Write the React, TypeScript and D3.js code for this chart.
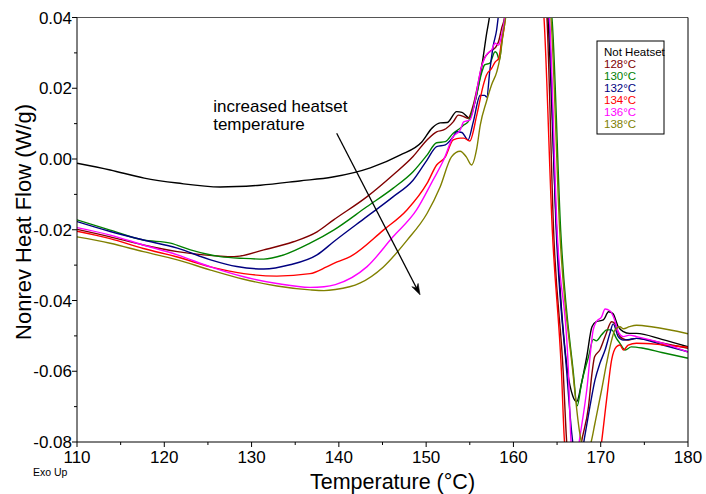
import React from "react";
import * as d3 from "d3";

type Pt = [number, number];

const seriesNames = ["Not Heatset", "128°C", "130°C", "132°C", "134°C", "136°C", "138°C"];
const seriesColors = ["#000000", "#800000", "#008000", "#000080", "#ff0000", "#ff00ff", "#808000"];

const notHeatset: Pt[] = [
  [110, -0.0012], [113.8, -0.0031], [117.7, -0.0054], [121.5, -0.0068], [126.4, -0.0079], [131, -0.0074],
  [135.5, -0.0062], [139.3, -0.0051], [143.6, -0.0025], [147, 0.0011], [149.5, 0.0048], [150.7, 0.0088],
  [151.6, 0.0102], [152.4, 0.0103], [153.5, 0.0134], [154.1, 0.0132], [155.0, 0.0115], [155.6, 0.0162],
  [156.4, 0.0266], [156.9, 0.035], [157.3, 0.041], [158, 0.06], [163, 0.06], [163.95, 0.04], [164.95, -0.02],
  [166.2, -0.06], [166.8, -0.067], [167.24, -0.0686], [167.8, -0.0634], [168.4, -0.0559], [169.0, -0.0474],
  [169.5, -0.046], [170.3, -0.0455], [170.9, -0.0432], [171.4, -0.0437], [172.0, -0.0474], [172.6, -0.0488],
  [173.3, -0.0493], [174.1, -0.0493], [177, -0.051], [180, -0.0531],
];

const hs128: Pt[] = [
  [110, -0.0199], [113.8, -0.022], [117.6, -0.0243], [121.5, -0.0262], [124.5, -0.0271], [128, -0.0276],
  [131.4, -0.0257], [134.8, -0.0234], [137.5, -0.0206], [139.4, -0.0172], [143.2, -0.0107], [146.2, -0.0045],
  [148.5, 0.0007], [150.1, 0.0054], [151.2, 0.0077], [152, 0.0082], [153.1, 0.0105], [153.7, 0.0124],
  [154.3, 0.012], [154.8, 0.0115], [155.4, 0.0153], [156, 0.0219], [156.5, 0.0276], [157.3, 0.0304],
  [157.9, 0.0314], [158.3, 0.0332], [158.65, 0.037], [159.03, 0.0407], [159.5, 0.06], [163, 0.06],
  [163.84, 0.04], [164.6, -0.02], [165.7, -0.06], [166.1, -0.08], [166.9, -0.095], [167.8, -0.08],
  [168.6, -0.07], [169, -0.0606], [169.3, -0.0559], [169.9, -0.054], [170.5, -0.0502], [171.25, -0.046],
  [171.6, -0.0464], [172.2, -0.0502], [173, -0.0512], [174.1, -0.0507], [177, -0.052], [180, -0.0535],
];

const hs130: Pt[] = [
  [110, -0.0172], [113.8, -0.0201], [117.6, -0.0229], [120.7, -0.0238], [123, -0.0257], [126.4, -0.0276],
  [129.1, -0.0281], [131.4, -0.0283], [133.7, -0.0271], [136.7, -0.0238], [139.4, -0.0201], [143.2, -0.0135],
  [146.2, -0.0083], [148.5, -0.0036], [150.1, 0.0011], [151.2, 0.0046], [152.2, 0.0049], [153.1, 0.0073],
  [153.9, 0.0087], [154.3, 0.0096], [154.8, 0.0105], [155.6, 0.0162], [156.4, 0.0247], [156.7, 0.0266],
  [157.3, 0.0271], [157.9, 0.0303], [158.1, 0.0299], [158.4, 0.028], [158.7, 0.034], [159.03, 0.0407],
  [159.5, 0.06], [163, 0.06], [164.41, 0.04], [165.41, -0.02], [166.85, -0.06], [167.3, -0.0698],
  [167.8, -0.0634], [168.6, -0.0559], [169.15, -0.051], [169.5, -0.0514], [170.1, -0.0497], [170.7, -0.0483],
  [171.25, -0.0483], [171.8, -0.0507], [172.2, -0.0521], [172.8, -0.054], [173.5, -0.0531], [174.9, -0.0535],
  [177, -0.0547], [180, -0.0563],
];

const hs132: Pt[] = [
  [110, -0.0177], [113.8, -0.0205], [117.6, -0.0229], [121.5, -0.0252], [125.3, -0.0285], [128.3, -0.0304],
  [131.4, -0.0311], [134.4, -0.0299], [137.5, -0.0271], [139.4, -0.0234], [143.2, -0.0163], [146.2, -0.0107],
  [148.5, -0.006], [150.1, -0.0003], [151.2, 0.0035], [152.2, 0.004], [153.1, 0.0063], [153.5, 0.0077],
  [154.1, 0.0075], [154.8, 0.0054], [155.4, 0.0105], [156.2, 0.018], [156.7, 0.018], [156.95, 0.0175],
  [157.3, 0.0251], [157.7, 0.0322], [158.07, 0.0364], [158.3, 0.041], [159, 0.06], [163, 0.06],
  [164.07, 0.04], [164.9, -0.02], [166.1, -0.06], [166.7, -0.078], [167.4, -0.088], [168.2, -0.078],
  [168.76, -0.07], [169.34, -0.0625], [169.9, -0.0578], [170.5, -0.054], [171.05, -0.0493], [171.43, -0.0466],
  [172, -0.0502], [172.6, -0.0512], [173.3, -0.051], [174.1, -0.0507], [177, -0.0525], [180, -0.0545],
];

const hs134: Pt[] = [
  [110, -0.0204], [113.8, -0.0225], [117.6, -0.0253], [121.5, -0.0277], [125.3, -0.0305], [129.1, -0.0324],
  [132.9, -0.0331], [136.7, -0.0324], [138.6, -0.0305], [139.8, -0.0291], [141.3, -0.0276], [145.1, -0.0201],
  [147.8, -0.0144], [150.1, -0.0069], [151.2, -0.0017], [152.2, 0.0006], [153.1, 0.0054], [153.9, 0.0059],
  [154.3, 0.0059], [155, 0.0051], [155.8, 0.0124], [156.55, 0.0209], [156.9, 0.0237], [157.5, 0.0256],
  [157.9, 0.0274], [158.3, 0.0284], [158.65, 0.0332], [159.03, 0.039], [159.5, 0.06], [162.5, 0.06],
  [163.5, 0.04], [164.45, -0.02], [165.5, -0.06], [165.85, -0.08], [167.5, -0.11], [170.1, -0.08],
  [170.67, -0.0681], [171.25, -0.0568], [171.8, -0.0531], [172.2, -0.0526], [172.6, -0.054], [173.15, -0.0526],
  [174.1, -0.0521], [177, -0.0525], [180, -0.0532],
];

const hs136: Pt[] = [
  [110, -0.0194], [113.8, -0.0215], [117.6, -0.0243], [121.5, -0.0271], [125.3, -0.0305], [129.1, -0.0333],
  [132.9, -0.0352], [136.7, -0.0363], [138.3, -0.0361], [139.6, -0.0355], [143.2, -0.0305], [146.2, -0.022],
  [148.9, -0.0144], [150.8, -0.0059], [152, -0.0003], [153.1, 0.0063], [153.9, 0.0082], [154.3, 0.0105],
  [155, 0.011], [156.4, 0.0266], [156.9, 0.0294], [157.5, 0.0308], [157.9, 0.0327], [158.3, 0.0322],
  [158.65, 0.035], [159.03, 0.0407], [159.5, 0.06], [163, 0.06], [164.12, 0.04], [165, -0.02],
  [166.3, -0.06], [166.6, -0.08], [167, -0.088], [167.62, -0.0785], [168.4, -0.0653], [169.14, -0.0483],
  [169.5, -0.046], [170.1, -0.0446], [170.5, -0.0424], [171.05, -0.0429], [171.6, -0.0455], [172, -0.0488],
  [172.6, -0.0502], [173.3, -0.0498], [174.1, -0.0502], [177, -0.052], [180, -0.0546],
];

const hs138: Pt[] = [
  [110, -0.022], [113.8, -0.0238], [117.6, -0.0262], [121.5, -0.0285], [125.3, -0.0314], [129.1, -0.034],
  [132.9, -0.0359], [136.7, -0.037], [138.3, -0.0372], [139.6, -0.0369], [142.4, -0.0351], [145.1, -0.0305],
  [147.8, -0.023], [150.1, -0.0154], [151.6, -0.0079], [152.9, 0.0006], [153.9, 0.0022], [154.6, 0.0006],
  [155.2, -0.0017], [155.8, 0.003], [156.2, 0.0096], [156.9, 0.0162], [157.5, 0.021], [158.1, 0.0247],
  [158.45, 0.0285], [158.85, 0.036], [159.14, 0.0407], [159.6, 0.06], [163, 0.06], [164.3, 0.04],
  [165.3, -0.02], [166.8, -0.06], [167.6, -0.0775], [168.2, -0.083], [168.9, -0.08], [169.34, -0.0747],
  [170.1, -0.0653], [170.67, -0.0578], [171.25, -0.0512], [171.63, -0.0483], [172.2, -0.0474], [172.6, -0.048],
  [173.3, -0.0474], [174.1, -0.047], [176, -0.0475], [180, -0.0494],
];

const seriesData: Pt[][] = [notHeatset, hs128, hs130, hs132, hs134, hs136, hs138];

const xTicks = [110, 120, 130, 140, 150, 160, 170, 180];
const xMinorTicks = [115, 125, 135, 145, 155, 165, 175];
const yTicks = [0.04, 0.02, 0, -0.02, -0.04, -0.06, -0.08];
const yTickLabels = ["0.04", "0.02", "0.00", "-0.02", "-0.04", "-0.06", "-0.08"];
const yMinorTicks = [0.03, 0.01, -0.01, -0.03, -0.05, -0.07];

const annotationLines = ["increased heatset", "temperature"];
const annotationAnchor: Pt = [125.6, 0.0132];
const arrowFrom: Pt = [139.75, 0.0073];
const arrowTo: Pt = [149.3, -0.0384];

const FONT = "'Liberation Sans', Arial, Helvetica, sans-serif";

export default function App() {
  const W = 706;
  const H = 494;
  const left = 77;
  const right = 688;
  const top = 17.5;
  const bottom = 442;

  const x = d3.scaleLinear().domain([110, 180]).range([left, right]);
  const y = d3.scaleLinear().domain([-0.08, 0.04]).range([bottom, top]);

  const line = d3
    .line<Pt>()
    .x((d) => x(d[0]))
    .y((d) => y(d[1]))
    .curve(d3.curveMonotoneX);

  const ax0 = x(arrowFrom[0]);
  const ay0 = y(arrowFrom[1]);
  const ax1 = x(arrowTo[0]);
  const ay1 = y(arrowTo[1]);
  const ang = Math.atan2(ay1 - ay0, ax1 - ax0);
  const hl = 11;
  const hw = 3.5;
  const bx = ax1 - hl * Math.cos(ang);
  const by = ay1 - hl * Math.sin(ang);
  const nx = ax1 - hl * 0.7 * Math.cos(ang);
  const ny = ay1 - hl * 0.7 * Math.sin(ang);
  const px = -Math.sin(ang) * hw;
  const py = Math.cos(ang) * hw;
  const head = `M${ax1},${ay1} L${bx + px},${by + py} L${nx},${ny} L${bx - px},${by - py} Z`;

  const legX = 597;
  const legY = 41;

  return (
    <svg
      width={W}
      height={H}
      style={{ position: "absolute", left: 0, top: 0, background: "#fff" }}
      fontFamily={FONT}
    >
      <rect x={0} y={0} width={W} height={H} fill="#fff" />
      <defs>
        <clipPath id="plotClip">
          <rect x={left} y={top} width={right - left} height={bottom - top} />
        </clipPath>
      </defs>

      <g clipPath="url(#plotClip)">
        {seriesData.map((s, i) => (
          <path
            key={seriesNames[i]}
            d={line(s) || ""}
            fill="none"
            stroke={seriesColors[i]}
            strokeWidth={1.4}
            strokeLinejoin="round"
          />
        ))}
      </g>

      {/* frame */}
      <line x1={left} x2={right} y1={top} y2={top} stroke="#555" strokeWidth={1} />
      <line x1={right} x2={right} y1={top} y2={bottom} stroke="#000" strokeWidth={1} />
      <line x1={left} x2={left} y1={top} y2={bottom} stroke="#000" strokeWidth={1} />
      <line x1={left} x2={right} y1={bottom} y2={bottom} stroke="#000" strokeWidth={1} />

      {/* y ticks */}
      {yTicks.map((t, i) => (
        <g key={"yt" + t}>
          <line x1={left - 5} x2={left} y1={y(t)} y2={y(t)} stroke="#000" />
          <text x={left - 5} y={y(t) + 6} fontSize={17} textAnchor="end" fill="#000">
            {yTickLabels[i]}
          </text>
        </g>
      ))}
      {yMinorTicks.map((t) => (
        <line key={"ym" + t} x1={left - 3} x2={left} y1={y(t)} y2={y(t)} stroke="#000" />
      ))}

      {/* x ticks */}
      {xTicks.map((t) => (
        <g key={"xt" + t}>
          <line x1={x(t)} x2={x(t)} y1={bottom} y2={bottom + 5} stroke="#000" />
          <text x={x(t)} y={bottom + 21} fontSize={17} textAnchor="middle" fill="#000">
            {t}
          </text>
        </g>
      ))}
      {xMinorTicks.map((t) => (
        <line key={"xm" + t} x1={x(t)} x2={x(t)} y1={bottom} y2={bottom + 3} stroke="#000" />
      ))}

      {/* axis titles */}
      <text x={(left + right) / 2 + 10} y={489} fontSize={21.5} textAnchor="middle" fill="#000">
        Temperature (°C)
      </text>
      <text
        transform={`translate(31,${222}) rotate(-90)`}
        fontSize={22}
        textAnchor="middle"
        fill="#000"
      >
        Nonrev Heat Flow (W/g)
      </text>
      <text x={33} y={476} fontSize={10.5} fill="#000">
        Exo Up
      </text>

      {/* legend */}
      <rect x={legX} y={legY} width={67} height={93} fill="none" stroke="#000" strokeWidth={1} />
      {seriesNames.map((n, i) => (
        <text key={"lg" + n} x={legX + 7} y={legY + 15 + i * 12} fontSize={11.5} fill={seriesColors[i]}>
          {n}
        </text>
      ))}

      {/* annotation */}
      {annotationLines.map((l, i) => (
        <text
          key={"an" + i}
          x={x(annotationAnchor[0])}
          y={y(annotationAnchor[1]) + i * 17.5}
          fontSize={17}
          fill="#000"
        >
          {l}
        </text>
      ))}
      <line x1={ax0} y1={ay0} x2={nx} y2={ny} stroke="#000" strokeWidth={1.3} />
      <path d={head} fill="#000" stroke="#000" strokeWidth={0.6} />
    </svg>
  );
}
